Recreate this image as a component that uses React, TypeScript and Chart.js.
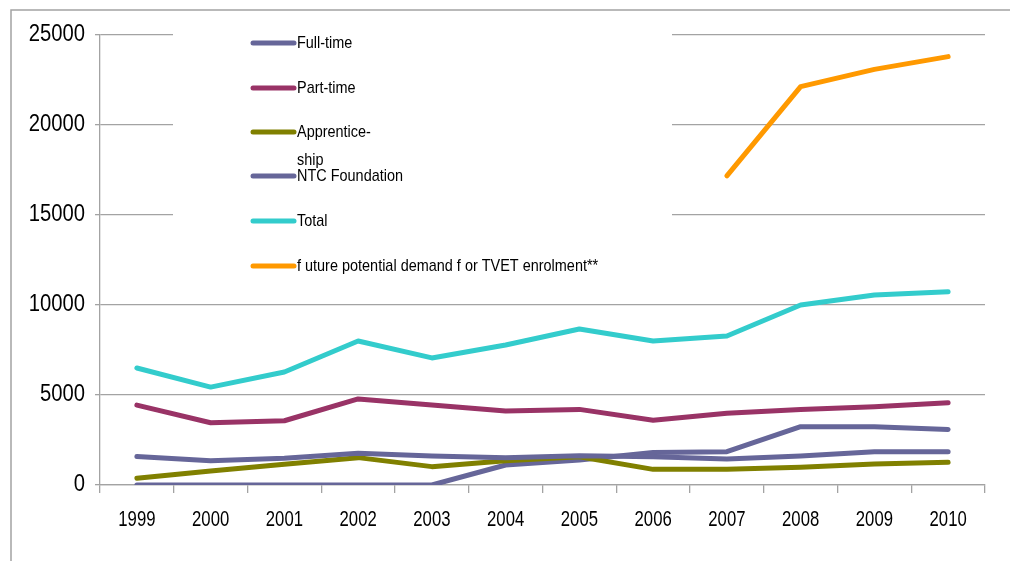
import React, { useEffect, useRef } from "react";
import { Chart, registerables } from "chart.js";

Chart.register(...registerables);

const years = ["1999", "2000", "2001", "2002", "2003", "2004", "2005", "2006", "2007", "2008", "2009", "2010"];
const fullTime = [1590, 1350, 1480, 1760, 1610, 1520, 1630, 1570, 1440, 1610, 1850, 1850];
const partTime = [4440, 3460, 3570, 4780, 4440, 4110, 4200, 3600, 3980, 4200, 4350, 4570];
const apprenticeship = [370, 780, 1150, 1520, 1020, 1350, 1570, 870, 870, 980, 1170, 1260];
const ntcFoundation = [0, 0, 0, 0, 0, 1110, 1390, 1800, 1850, 3240, 3240, 3090];
const total = [6500, 5440, 6280, 8000, 7060, 7780, 8670, 8000, 8280, 10000, 10560, 10740];
const futureDemand = [null, null, null, null, null, null, null, null, 17170, 22130, 23090, 23800];
const yTickLabels = ["0", "5000", "10000", "15000", "20000", "25000"];
const yTickValues = [0, 5000, 10000, 15000, 20000, 25000];

const seriesNames = ["Full-time", "Part-time", "Apprentice-\nship", "NTC Foundation", "Total", "f uture potential demand f or TVET enrolment**"];
const seriesColors = ["#666699", "#993366", "#808000", "#666699", "#33CCCC", "#FF9900"];
const seriesData = [fullTime, partTime, apprenticeship, ntcFoundation, total, futureDemand];

const GRID = "#a3a3a3";

const decorPlugin = {
  id: "decor",
  beforeDraw(chart: any) {
    const ctx = chart.ctx;
    ctx.save();
    ctx.fillStyle = "#fff";
    ctx.fillRect(0, 0, chart.width, chart.height);
    ctx.strokeStyle = GRID;
    ctx.lineWidth = 1.5;
    ctx.beginPath();
    ctx.moveTo(11, chart.height);
    ctx.lineTo(11, 10);
    ctx.lineTo(chart.width, 10);
    ctx.stroke();
    ctx.restore();
  },
  afterDatasetsDraw(chart: any) {
    const ctx = chart.ctx;
    ctx.save();
    ctx.fillStyle = "#fff";
    ctx.fillRect(173, 22, 499, 262);
    const x0 = 253;
    const x1 = 294;
    const ys = [43, 88, 132, 176, 221, 266];
    for (let i = 0; i < seriesNames.length; i++) {
      ctx.strokeStyle = seriesColors[i];
      ctx.lineWidth = 5;
      ctx.lineCap = "round";
      ctx.beginPath();
      ctx.moveTo(x0, ys[i]);
      ctx.lineTo(x1, ys[i]);
      ctx.stroke();
      const lines = seriesNames[i].split("\n");
      ctx.fillStyle = "#000";
      ctx.font = "17px 'Liberation Sans'";
      ctx.textBaseline = "middle";
      ctx.textAlign = "left";
      lines.forEach((ln, j) => {
        ctx.save();
        ctx.translate(297, ys[i] + j * 28);
        ctx.scale(0.85, 1);
        ctx.fillText(ln, 0, 0);
        ctx.restore();
      });
    }
    ctx.restore();
  },
  afterDraw(chart: any) {
    const ctx = chart.ctx;
    const xs = chart.scales.x;
    const yScale = chart.scales.y;
    ctx.save();
    ctx.fillStyle = "#000";
    ctx.textBaseline = "middle";
    ctx.font = "23px 'Liberation Sans'";
    ctx.textAlign = "right";
    yTickValues.forEach((v, i) => {
      ctx.save();
      ctx.translate(85, yScale.getPixelForValue(v));
      ctx.scale(0.88, 1);
      ctx.fillText(yTickLabels[i], 0, 0);
      ctx.restore();
    });
    ctx.font = "22px 'Liberation Sans'";
    ctx.textAlign = "center";
    years.forEach((lab, i) => {
      ctx.save();
      ctx.translate(xs.getPixelForTick(i), 520);
      ctx.scale(0.76, 1);
      ctx.fillText(lab, 0, 0);
      ctx.restore();
    });
    ctx.restore();
  },
};

export default function App() {
  const ref = useRef<HTMLCanvasElement>(null);
  useEffect(() => {
    const chart = new Chart(ref.current as HTMLCanvasElement, {
      type: "line",
      data: {
        labels: years,
        datasets: seriesData.map((d, i) => ({
          label: seriesNames[i],
          data: d as any,
          borderColor: seriesColors[i],
          backgroundColor: seriesColors[i],
          borderWidth: 5,
          pointRadius: 0,
          tension: 0,
          borderCapStyle: "round",
          borderJoinStyle: "round",
          spanGaps: false,
          fill: false,
        })),
      },
      options: {
        responsive: false,
        animation: false,
        devicePixelRatio: 1,
        layout: { padding: { left: 95, top: 35, right: 25, bottom: 68 } },
        plugins: { legend: { display: false }, tooltip: { enabled: false } },
        scales: {
          x: {
            type: "category",
            offset: true,
            grid: { display: true, drawOnChartArea: false, offset: true, tickLength: 8, color: GRID, lineWidth: 1.3 },
            border: { display: true, color: GRID, width: 1.3 },
            ticks: { display: false },
          },
          y: {
            min: 0,
            max: 25000,
            ticks: { display: false, stepSize: 5000 },
            grid: { color: GRID, lineWidth: 1.3, tickLength: 5 },
            border: { display: true, color: GRID, width: 1.3 },
          },
        },
      },
      plugins: [decorPlugin],
    });
    return () => chart.destroy();
  }, []);
  return (
    <div style={{ position: "absolute", left: 0, top: 0, width: 1010, height: 561 }}>
      <canvas ref={ref} width={1010} height={561} style={{ display: "block" }} />
    </div>
  );
}
